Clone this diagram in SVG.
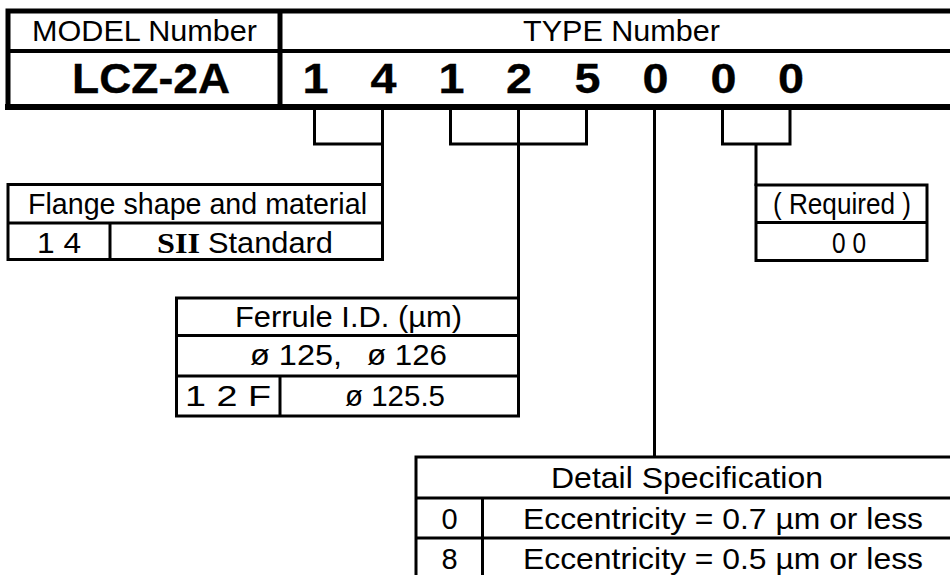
<svg xmlns="http://www.w3.org/2000/svg" width="950" height="575" viewBox="0 0 950 575">
<style>
.t{font-family:"Liberation Sans",Arial,sans-serif;font-size:29px;fill:#000;text-anchor:middle}
.b{font-family:"Liberation Sans",Arial,sans-serif;font-size:42px;font-weight:bold;fill:#000;stroke:#000;stroke-width:0.3px;text-anchor:middle}
.s{font-family:"Liberation Serif","Times New Roman",serif;font-weight:bold;font-size:29px;fill:#000}
.box{fill:#fff;stroke:#000;stroke-width:3}
.ln{fill:none;stroke:#000;stroke-width:3}
</style>
<rect width="950" height="575" fill="#fff"/>
<g id="header">
<rect x="8" y="11" width="960" height="96" fill="#fff" stroke="#000" stroke-width="5"/>
<line x1="8" y1="51" x2="968" y2="51" stroke="#000" stroke-width="4"/>
<line x1="280" y1="11" x2="280" y2="107" stroke="#000" stroke-width="5"/>
<line x1="5" y1="107" x2="968" y2="107" stroke="#000" stroke-width="6"/>
<text class="t" x="144.5" y="41" textLength="225" lengthAdjust="spacingAndGlyphs">MODEL Number</text>
<text class="t" x="621.5" y="41" textLength="197" lengthAdjust="spacingAndGlyphs">TYPE Number</text>
<text class="b" x="151" y="92.5" textLength="158" lengthAdjust="spacingAndGlyphs">LCZ-2A</text>
<text class="b" x="315.5" y="92.5" textLength="26" lengthAdjust="spacingAndGlyphs">1</text>
<text class="b" x="383.5" y="92.5" textLength="26" lengthAdjust="spacingAndGlyphs">4</text>
<text class="b" x="451.5" y="92.5" textLength="26" lengthAdjust="spacingAndGlyphs">1</text>
<text class="b" x="519" y="92.5" textLength="26" lengthAdjust="spacingAndGlyphs">2</text>
<text class="b" x="587.5" y="92.5" textLength="26" lengthAdjust="spacingAndGlyphs">5</text>
<text class="b" x="655.5" y="92.5" textLength="26" lengthAdjust="spacingAndGlyphs">0</text>
<text class="b" x="723.5" y="92.5" textLength="26" lengthAdjust="spacingAndGlyphs">0</text>
<text class="b" x="791" y="92.5" textLength="26" lengthAdjust="spacingAndGlyphs">0</text>
</g>
<g id="connectors">
<path class="ln" d="M314.5,108 V144 H382.5 M382.5,108 V186"/>
<path class="ln" d="M450.5,108 V144 H586.5 V108 M518.5,108 V299"/>
<path class="ln" d="M654.5,108 V458"/>
<path class="ln" d="M722.5,108 V144 H790 V108 M756,144 V186"/>
</g>
<g id="flange">
<rect class="box" x="8" y="184.5" width="374.5" height="75"/>
<line class="ln" x1="8" y1="223" x2="382.5" y2="223"/>
<line class="ln" x1="110" y1="223" x2="110" y2="259.5"/>
<text class="t" x="197.5" y="214" textLength="339" lengthAdjust="spacingAndGlyphs">Flange shape and material</text>
<text class="t" x="59" y="252.5" textLength="44" lengthAdjust="spacingAndGlyphs">1 4</text>
<text class="s" x="157" y="252.5" textLength="43" lengthAdjust="spacingAndGlyphs">SII</text>
<text class="t" x="270.5" y="252.5" textLength="125" lengthAdjust="spacingAndGlyphs">Standard</text>
</g>
<g id="required">
<rect class="box" x="756" y="185" width="171" height="75.5"/>
<line class="ln" x1="756" y1="222.5" x2="927" y2="222.5"/>
<text class="t" x="842" y="214" textLength="138" lengthAdjust="spacingAndGlyphs">( Required )</text>
<text class="t" x="849" y="252.5" textLength="34" lengthAdjust="spacingAndGlyphs">0 0</text>
</g>
<g id="ferrule">
<rect class="box" x="176.5" y="298" width="342" height="118"/>
<line class="ln" x1="176.5" y1="335.5" x2="518.5" y2="335.5"/>
<line class="ln" x1="176.5" y1="376" x2="518.5" y2="376"/>
<line class="ln" x1="280" y1="376" x2="280" y2="416"/>
<text class="t" x="348.5" y="326.5" textLength="227" lengthAdjust="spacingAndGlyphs">Ferrule I.D. (µm)</text>
<text class="t" x="296" y="365" textLength="92" lengthAdjust="spacingAndGlyphs">ø 125,</text>
<text class="t" x="407" y="365" textLength="80" lengthAdjust="spacingAndGlyphs">ø 126</text>
<text class="t" x="228" y="406" textLength="86" lengthAdjust="spacingAndGlyphs">1 2 F</text>
<text class="t" x="395" y="406" textLength="100" lengthAdjust="spacingAndGlyphs">ø 125.5</text>
</g>
<g id="detail">
<rect class="box" x="416" y="457" width="560" height="125"/>
<line class="ln" x1="416" y1="498" x2="976" y2="498"/>
<line class="ln" x1="416" y1="538" x2="976" y2="538"/>
<line class="ln" x1="482.5" y1="498" x2="482.5" y2="582"/>
<text class="t" x="687" y="488" textLength="272" lengthAdjust="spacingAndGlyphs">Detail Specification</text>
<text class="t" x="449.5" y="528.5">0</text>
<text class="t" x="723" y="528.5" textLength="400" lengthAdjust="spacingAndGlyphs">Eccentricity = 0.7 µm or less</text>
<text class="t" x="449.5" y="568.5">8</text>
<text class="t" x="723" y="568.5" textLength="400" lengthAdjust="spacingAndGlyphs">Eccentricity = 0.5 µm or less</text>
</g>
</svg>
